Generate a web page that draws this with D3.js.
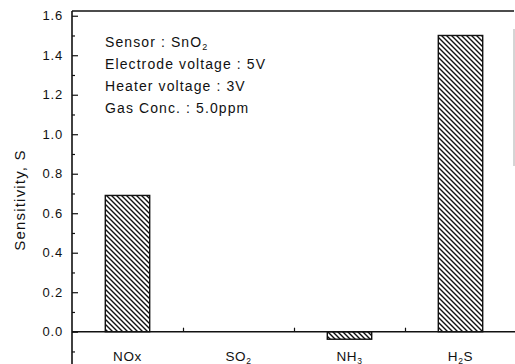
<!DOCTYPE html>
<html>
<head>
<meta charset="utf-8">
<script src="https://cdn.jsdelivr.net/npm/d3@7"></script>
<style>
  body { margin: 0; background: #fff; }
  text { font-family: "Liberation Sans", Arial, sans-serif; fill: #111; }
</style>
</head>
<body>
<div id="chart"></div>
<script>
(function() {
  // data
  var gases = ["NOx", "SO2", "NH3", "H2S"]
  var gasSub = { "NOx": ["NOx", ""], "SO2": ["SO", "2"], "NH3": ["NH", "3"], "H2S": ["H", "2", "S"] }
  var sensitivity = [0.69, 0.0, -0.038, 1.5]
  var yTicks = [0.0, 0.2, 0.4, 0.6, 0.8, 1.0, 1.2, 1.4, 1.6]
  var yMinorTicks = [-0.1, 0.1, 0.3, 0.5, 0.7, 0.9, 1.1, 1.3, 1.5]
  var notes = ["Sensor : SnO", "Electrode voltage : 5V", "Heater voltage : 3V", "Gas Conc. : 5.0ppm"]

  var W = 515, H = 364
  var margin = { top: 11, left: 72, right: 0, bottom: 0 },
      height = H - margin.top - margin.bottom,
      width = 444

  var svg = d3.select("#chart")
      .append("svg")
      .attr("width", W)
      .attr("height", H)

  // hatch fill
  var pat = svg.append("defs").append("pattern")
      .attr("id", "hatch")
      .attr("patternUnits", "userSpaceOnUse")
      .attr("width", 5).attr("height", 5)
  pat.append("rect").attr("width", 5).attr("height", 5).attr("fill", "#fff")
  pat.append("path")
      .attr("d", "M-1,-1 L6,6 M-1,4 L1,6 M4,-1 L6,1")
      .attr("stroke", "#111")
      .attr("stroke-width", 1.4)

  var g = svg.append("g")
      .attr("transform", "translate(" + margin.left + "," + margin.top + ")")

  var yScale = d3.scaleLinear().domain([-0.1635, 1.624]).range([height, 0])
  var xScale = d3.scaleBand().domain(gases).range([0, width])
      .paddingInner(0.6).paddingOuter(0.3)

  // bars
  g.selectAll("rect.bar")
    .data(gases)
    .enter().append("rect")
    .attr("class", "bar")
    .attr("x", function(d) { return xScale(d) })
    .attr("width", xScale.bandwidth())
    .attr("y", function(d, i) { return yScale(Math.max(0, sensitivity[i])) })
    .attr("height", function(d, i) { return Math.abs(yScale(sensitivity[i]) - yScale(0)) })
    .attr("fill", "url(#hatch)")
    .attr("stroke", function(d, i) { return sensitivity[i] === 0 ? "none" : "#111" })
    .attr("stroke-width", 1.4)

  // y axis, ticks pointing inward
  var yAxis = d3.axisRight(yScale).tickValues(yTicks).tickSize(6).tickFormat(d3.format(".1f"))
  var ya = g.append("g").attr("class", "axis y-axis").call(yAxis)
  ya.select(".domain").remove()
  ya.selectAll(".tick line").attr("stroke", "#111").attr("stroke-width", 1.2)
  ya.selectAll(".tick text")
    .attr("x", -9).attr("text-anchor", "end")
    .style("font-size", "13px")
    .style("letter-spacing", "0.8px")

  g.append("g").call(d3.axisRight(yScale).tickValues(yMinorTicks).tickSize(3).tickFormat(""))
    .call(function(s) {
      s.select(".domain").remove()
      s.selectAll(".tick line").attr("stroke", "#111").attr("stroke-width", 1.2)
    })

  g.append("line")
    .attr("x1", 0).attr("x2", 0).attr("y1", 0).attr("y2", height)
    .attr("stroke", "#111").attr("stroke-width", 1.6)

  // top frame and faint right edge
  g.append("line")
    .attr("x1", 0).attr("x2", width - 2).attr("y1", 0).attr("y2", 0)
    .attr("stroke", "#111").attr("stroke-width", 1.6)
  g.append("line")
    .attr("x1", width - 2).attr("x2", width - 2).attr("y1", 18).attr("y2", 155)
    .attr("stroke", "#aaa").attr("stroke-width", 1)

  // zero line with ticks between categories
  var midTicks = gases.slice(1).map(function(d) { return xScale(d) - xScale.step() * xScale.paddingInner() / 2 })
  var xAxis = d3.axisTop(d3.scaleLinear().domain([0, width]).range([0, width]))
      .tickValues(midTicks).tickSize(4).tickFormat("")
  var xa = g.append("g").attr("transform", "translate(0," + yScale(0) + ")").call(xAxis)
  xa.select(".domain").remove()
  xa.selectAll(".tick line").attr("stroke", "#111").attr("stroke-width", 1.2)
  g.append("line")
    .attr("x1", 0).attr("x2", width).attr("y1", yScale(0)).attr("y2", yScale(0))
    .attr("stroke", "#111").attr("stroke-width", 1.6)

  // category labels at the bottom
  var lab = g.selectAll("text.cat")
    .data(gases)
    .enter().append("text")
    .attr("class", "cat")
    .attr("x", function(d) { return xScale(d) + xScale.bandwidth() / 2 })
    .attr("y", 349.5)
    .attr("text-anchor", "middle")
    .style("font-size", "13.5px")
    .style("letter-spacing", "0.6px")
  lab.each(function(d) {
    var parts = gasSub[d], t = d3.select(this)
    t.append("tspan").text(parts[0])
    if (parts[1]) t.append("tspan").attr("dy", 3).style("font-size", "8.5px").text(parts[1])
    if (parts[2]) t.append("tspan").attr("dy", -3).text(parts[2])
  })

  // y label
  svg.append("text")
    .attr("transform", "translate(25,200) rotate(-90)")
    .attr("text-anchor", "middle")
    .style("font-size", "15px")
    .style("letter-spacing", "1.2px")
    .text("Sensitivity, S")

  // annotation block
  var nt = g.selectAll("text.note")
    .data(notes)
    .enter().append("text")
    .attr("class", "note")
    .attr("x", 33)
    .attr("y", function(d, i) { return 36 + i * 22 })
    .style("font-size", "14px")
    .style("letter-spacing", "1.1px")
    .text(function(d) { return d })
  nt.filter(function(d, i) { return i === 0 })
    .append("tspan").attr("dy", 3).style("font-size", "9px").text("2")
})()
</script>
</body>
</html>
